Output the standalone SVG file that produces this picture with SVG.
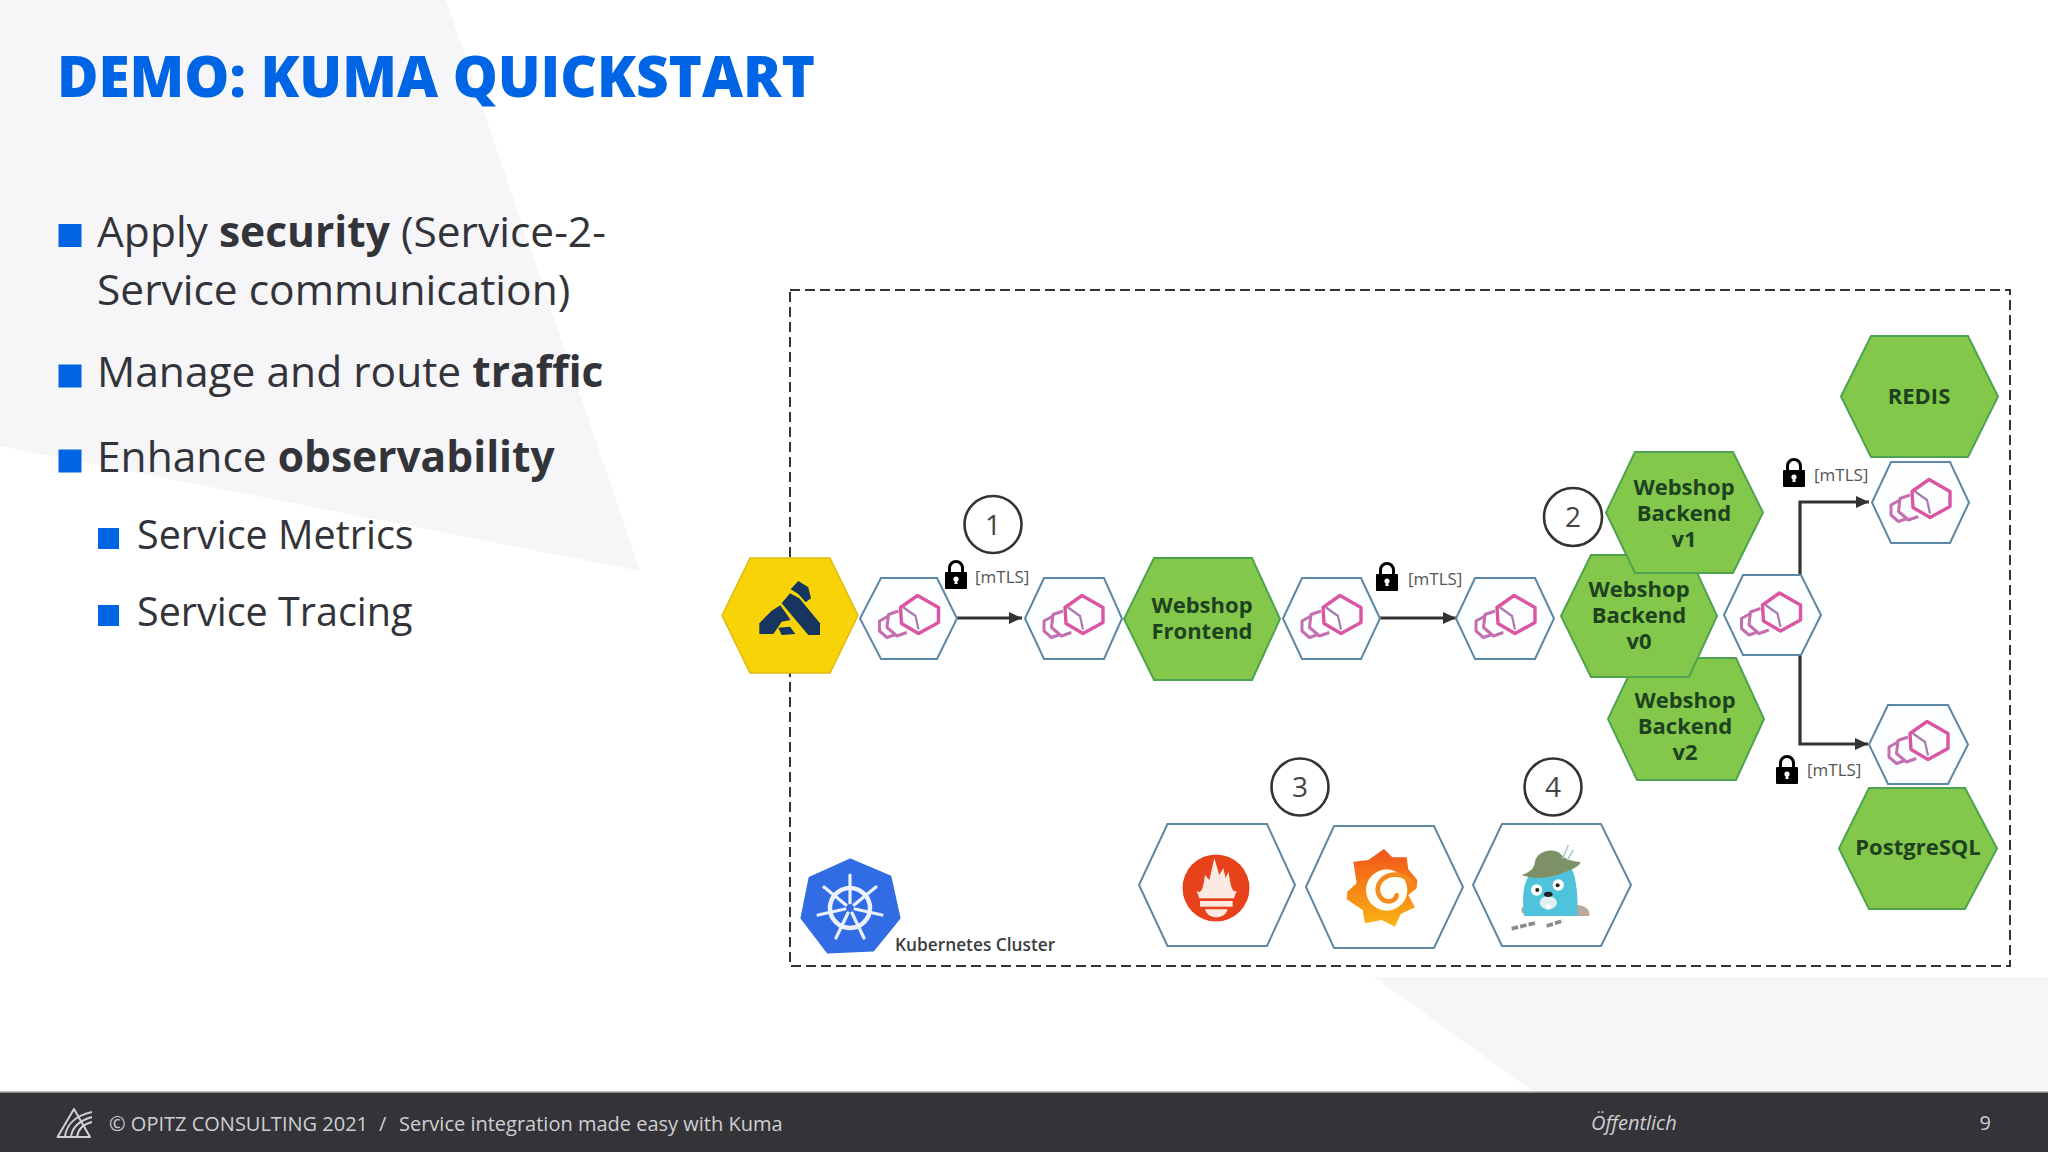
<svg xmlns="http://www.w3.org/2000/svg" xmlns:xlink="http://www.w3.org/1999/xlink" width="2048" height="1152" viewBox="0 0 2048 1152">
<style>
text{font-family:"Open Sans","Noto Sans",sans-serif}
.title{font-size:56.600px;font-weight:800;fill:#0065e4}
.b1{font-size:42.500px;fill:#33333a}
.b2{font-size:39.500px;fill:#33333a}
.bold{font-weight:700}
.sq{fill:#0065e4}
.envoyhex{fill:#fdfeff;stroke:#5c87a6;stroke-width:2}
.toolhex{fill:#fff;stroke:#5c87a6;stroke-width:2}
.green{fill:#84c84b;stroke:#4fa350;stroke-width:2}
.gt{font-size:22px;font-weight:700;fill:#1d421f;text-anchor:middle}
.num{fill:#fff;stroke:#333;stroke-width:2.600}
.numt{font-size:28px;fill:#444;text-anchor:middle}
.mtls{font-size:17px;fill:#555}
.conn{fill:none;stroke:#333;stroke-width:3.200;marker-end:url(#arrow)}
.ft{font-size:20px;fill:#cfcfd2}
.soft{filter:url(#soft)}
</style>
<defs>
<filter id="soft" x="-10%" y="-10%" width="120%" height="120%"><feGaussianBlur stdDeviation="0.700"/></filter>
<marker id="arrow" markerUnits="userSpaceOnUse" markerWidth="14" markerHeight="14" refX="13" refY="7" orient="auto"><path d="M0,1 L13,7 L0,13 Z" fill="#333"/></marker>
<symbol id="envoy" overflow="visible" viewBox="-40 -40 80 80" width="80" height="80">
<g fill="none" stroke-linejoin="round" class="soft">
<path d="M-20,-2.500 L-29,2.500 L-29,12.500 L-21.500,19 L-13,16" stroke="#c46fb0" stroke-width="3"/>
<path d="M-10,-7.500 L-20,-4 L-21.500,9 L-11.500,17.500 L-1.700,14" stroke="#c46fb0" stroke-width="3"/>
<path d="M-5,-11 L7,-2.500 L10,11" stroke="#a97ab0" stroke-width="2.200"/>
<path d="M9,-23 L30,-11 L30,4 L10,15 L-7,5 L-8,-11 Z" stroke="#da56a2" stroke-width="3.400"/>
</g>
</symbol>
<symbol id="lock" overflow="visible" viewBox="0 0 22 29" width="22" height="29">
<path d="M4.500,13 V8 A6.500,6.500 0 0 1 17.500,8 V13" fill="none" stroke="#000" stroke-width="3"/>
<rect x="0" y="12" width="22" height="17" rx="1" fill="#000"/>
<circle cx="11" cy="19" r="2.600" fill="#fff"/><path d="M10,20 H12 L12.600,24 H9.400 Z" fill="#fff"/>
</symbol>
<linearGradient id="gf" x1="0" y1="0" x2="0" y2="1"><stop offset="0" stop-color="#f2541b"/><stop offset="1" stop-color="#fab415"/></linearGradient>
</defs>
<rect width="2048" height="1152" fill="#fff"/>
<polygon points="0,0 446,0 640,571 0,446" fill="#f6f6f9"/>
<polygon points="1374,977 1534,1092 2048,1092 2048,977" fill="#f6f6f9"/>
<text class="title" x="57" y="97">DEMO: KUMA QUICKSTART</text>
<g id="bullets">
<rect class="sq" x="58.500" y="224" width="23" height="23"/>
<text class="b1" x="97" y="247">Apply <tspan class="bold">security</tspan> (Service-2-</text>
<text class="b1" x="97" y="305">Service communication)</text>
<rect class="sq" x="58.500" y="364.500" width="23" height="23"/>
<text class="b1" x="97" y="387">Manage and route <tspan class="bold">traffic</tspan></text>
<rect class="sq" x="58.500" y="449.500" width="23" height="23"/>
<text class="b1" x="97" y="472">Enhance <tspan class="bold">observability</tspan></text>
<rect class="sq" x="98" y="528" width="21" height="21"/>
<text class="b2" x="137" y="548.500">Service Metrics</text>
<rect class="sq" x="98" y="605" width="21" height="21"/>
<text class="b2" x="137" y="625.500">Service Tracing</text>
</g>
<rect id="cluster" x="790" y="290" width="1220" height="676" fill="#fff" stroke="#333" stroke-width="2" stroke-dasharray="10 5"/>
<g id="connectors">
<path class="conn" d="M957,618 H1022"/>
<path class="conn" d="M1380,618 H1456"/>
<path class="conn" d="M1800,575 V502 H1869"/>
<path class="conn" d="M1800,655 V744 H1868"/>
</g>
<g id="kong">
<polygon points="722,615.500 750,558 830,558 858,615.500 830,673 750,673" fill="#f8d308" stroke="#dcbc10" stroke-width="1.500"/>
<g fill="#12365f" transform="translate(740,570) scale(.3333)" class="soft">
<path d="M152,58 L175,33 L205,52 L213,85 L197,97 L175,72 Z"/>
<path d="M125,100 L150,70 L178,85 L240,160 L240,195 L205,195 Z"/>
<path d="M58,192 L58,160 L95,122 L121,106 L152,150 L125,155 L100,192 Z"/>
<path d="M115,173 L150,170 L166,192 L125,195 Z"/>
</g>
</g>
<g id="envoy1"><polygon class="envoyhex" points="860,618.500 881,578 937,578 957,618.500 937,659 881,659"/><use xlink:href="#envoy" href="#envoy" x="868.500" y="578.500"/></g>
<g id="envoy2"><polygon class="envoyhex" points="1025,618.500 1044,578 1104,578 1122,618.500 1104,659 1044,659"/><use xlink:href="#envoy" href="#envoy" x="1033" y="578.500"/></g>
<g id="frontend"><polygon class="green" points="1124,619 1154,558 1252,558 1280,619 1252,680 1154,680"/><text class="gt" x="1202" y="613">Webshop</text><text class="gt" x="1202" y="639">Frontend</text></g>
<g id="envoy3"><polygon class="envoyhex" points="1283,618.500 1302,578 1361,578 1380,618.500 1361,659 1302,659"/><use xlink:href="#envoy" href="#envoy" x="1291" y="578.500"/></g>
<g id="envoy4"><polygon class="envoyhex" points="1456,618.500 1475,578 1535,578 1554,618.500 1535,659 1475,659"/><use xlink:href="#envoy" href="#envoy" x="1465" y="578.500"/></g>
<g id="backend-v2"><polygon class="green" points="1608,719 1637,658 1736,658 1764,719 1736,780 1637,780"/><text class="gt" x="1685" y="708">Webshop</text><text class="gt" x="1685" y="734">Backend</text><text class="gt" x="1685" y="760">v2</text></g>
<g id="backend-v0"><polygon class="green" points="1561,616 1591,555 1689,555 1717,616 1689,677 1591,677"/><text class="gt" x="1639" y="597">Webshop</text><text class="gt" x="1639" y="623">Backend</text><text class="gt" x="1639" y="649">v0</text></g>
<g id="backend-v1"><polygon class="green" points="1606,512.500 1635,452 1733,452 1763,512.500 1733,573 1635,573"/><text class="gt" x="1684" y="495">Webshop</text><text class="gt" x="1684" y="521">Backend</text><text class="gt" x="1684" y="547">v1</text></g>
<g id="envoy5"><polygon class="envoyhex" points="1724,615 1743,575 1801,575 1821,615 1801,655 1743,655"/><use xlink:href="#envoy" href="#envoy" x="1730.500" y="576"/></g>
<g id="redis"><polygon class="green" points="1841,396.500 1871,336 1968,336 1998,396.500 1968,457 1871,457"/><text class="gt" x="1919" y="403.500">REDIS</text></g>
<g id="envoy6"><polygon class="envoyhex" points="1872,502.500 1891,462 1950,462 1969,502.500 1950,543 1891,543"/><use xlink:href="#envoy" href="#envoy" x="1880" y="462.500"/></g>
<g id="envoy7"><polygon class="envoyhex" points="1869,744.500 1888,705 1948,705 1968,744.500 1948,784 1888,784"/><use xlink:href="#envoy" href="#envoy" x="1878" y="704.500"/></g>
<g id="postgres"><polygon class="green" points="1839,848.500 1869,788 1965,788 1997,848.500 1965,909 1869,909"/><text class="gt" x="1918" y="854.500">PostgreSQL</text></g>
<g id="step1"><circle class="num" cx="993" cy="524.500" r="28.500"/><text class="numt" x="993" y="534.500">1</text></g>
<g id="step2"><circle class="num" cx="1573" cy="517" r="29"/><text class="numt" x="1573" y="527">2</text></g>
<g id="step3"><circle class="num" cx="1300" cy="787" r="28.500"/><text class="numt" x="1300" y="797">3</text></g>
<g id="step4"><circle class="num" cx="1553" cy="787" r="28.500"/><text class="numt" x="1553" y="797">4</text></g>
<g id="labels">
<use xlink:href="#lock" href="#lock" x="945" y="560"/><text class="mtls" x="975" y="582.500">[mTLS]</text>
<use xlink:href="#lock" href="#lock" x="1376" y="562"/><text class="mtls" x="1408" y="585">[mTLS]</text>
<use xlink:href="#lock" href="#lock" x="1783" y="458"/><text class="mtls" x="1814" y="481">[mTLS]</text>
<use xlink:href="#lock" href="#lock" x="1776" y="755"/><text class="mtls" x="1807" y="776">[mTLS]</text>
</g>
<g id="prometheus">
<polygon class="toolhex" points="1139,885 1167.500,824 1267,824 1295,885 1267,946 1167.500,946"/>
<g class="soft"><circle cx="1216" cy="888" r="33.500" fill="#e8431c"/>
<g transform="translate(1160,830) scale(.3333)" fill="#fbe9e2">
<path d="M110,183 C128,195 130,165 135,135 L148,150 L163,85 L178,135 L190,115 L197,145 L205,125 C212,160 214,190 230,183 L222,205 L118,205 Z"/>
<rect x="120" y="213" width="98" height="17"/>
<path d="M135,238 H203 C198,256 182,262 169,262 C156,262 140,256 135,238 Z"/>
</g></g>
</g>
<g id="grafana">
<polygon class="toolhex" points="1306,887 1334,826 1434,826 1463,887 1434,948 1334,948"/>
<g transform="translate(1160,830) scale(.3333)" class="soft">
<path d="M672,57 L697,82 L740,82 L745,118 L772,150 L770,175 L745,195 L765,232 L722,252 L705,290 L665,270 L615,280 L608,240 L560,208 L562,185 L590,160 L580,95 L625,90 Z" fill="url(#gf)"/>
<circle cx="680" cy="180" r="62" fill="#fffdf8"/>
<path d="M755,160 C735,130 690,125 665,150 C645,172 652,205 678,213 C695,217 708,208 710,196" fill="none" stroke="#f58a1b" stroke-width="14" stroke-linecap="round"/>
</g>
</g>
<g id="gopher">
<polygon class="toolhex" points="1473,885 1502,824 1601,824 1631,885 1601,946 1502,946"/>
<g transform="translate(1160,830) scale(.3333)" class="soft">
<path d="M1088,250 C1075,235 1095,222 1110,225 L1110,250 Z M1250,225 C1275,225 1292,240 1288,258 L1250,258 Z" fill="#b9a99b"/>
<path d="M1092,258 C1085,205 1090,140 1120,125 L1230,110 C1250,130 1255,210 1252,258 Z" fill="#4fc3dc"/>
<circle cx="1130" cy="180" r="17" fill="#fff"/><circle cx="1195" cy="165" r="17" fill="#fff"/>
<circle cx="1132" cy="180" r="6" fill="#222"/><circle cx="1193" cy="166" r="6" fill="#222"/>
<ellipse cx="1165" cy="218" rx="26" ry="20" fill="#e2eef0"/>
<ellipse cx="1165" cy="193" rx="13" ry="8" fill="#222"/>
<rect x="1158" y="224" width="14" height="14" fill="#fff"/>
<path d="M1085,135 C1110,125 1122,118 1125,95 C1130,62 1185,50 1205,75 C1215,85 1222,92 1262,96 C1258,112 1225,122 1205,130 C1170,145 1120,150 1085,135 Z" fill="#7e9166"/>
<path d="M1208,85 L1225,45 M1222,90 L1240,60" stroke="#a7cfd3" stroke-width="5" fill="none"/>
<path d="M1055,296 L1130,278 M1160,288 L1210,272" stroke="#8b8b8b" stroke-width="11" stroke-dasharray="20 6" fill="none"/>
</g>
</g>
<g id="kubernetes">
<polygon points="850,860 890,877 899,918 873,950 828,952 802,918 810,878" fill="#326ce5" stroke="#326ce5" stroke-width="3" stroke-linejoin="round"/>
<g transform="translate(850,908)" stroke="#eaf1fc" fill="none" class="soft">
<circle r="20" stroke-width="4.500"/>
<g stroke-width="3.200" stroke-linecap="round">
<path d="M0,-5 V-33"/><path d="M4,-3 L26,-21"/><path d="M5,1 L32,7"/><path d="M2,5 L14,30"/><path d="M-2,5 L-14,30"/><path d="M-5,1 L-32,7"/><path d="M-4,-3 L-26,-21"/>
</g>
<circle r="3.500" fill="#326ce5" stroke="none"/>
</g>
<text x="895" y="951" font-size="17.300" font-weight="600" fill="#3c3c3c">Kubernetes Cluster</text>
</g>
<g id="footer">
<rect x="0" y="1092" width="2048" height="60" fill="#333338"/>
<rect x="0" y="1091.500" width="2048" height="1.500" fill="#888"/>
<g fill="none" stroke="#d0d0d3" stroke-width="2">
<path d="M74,1109 L57.500,1137 H90 Z" stroke-linejoin="round"/>
<path d="M65,1137 C66,1126 74,1116 92,1112 M71,1137 C72,1128 78,1121 92,1117 M77,1137 C78,1130 83,1124 92,1122"/>
</g>
<text class="ft" x="109" y="1130.500">© OPITZ CONSULTING 2021</text>
<text class="ft" x="379" y="1130.500">/</text>
<text class="ft" x="399" y="1130.500">Service integration made easy with Kuma</text>
<text class="ft" x="1591" y="1130" font-style="italic">Öffentlich</text>
<text class="ft" x="1991" y="1130" text-anchor="end">9</text>
</g>
</svg>
